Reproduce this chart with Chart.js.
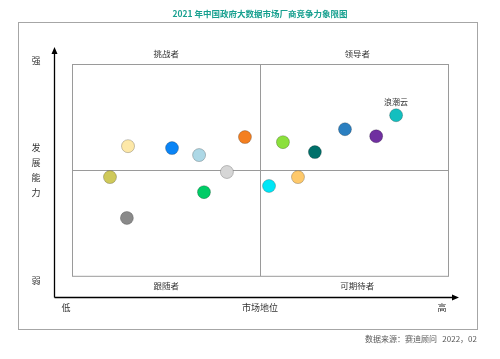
<!DOCTYPE html>
<html>
<head>
<meta charset="utf-8">
<script src="https://cdn.jsdelivr.net/npm/chart.js@4/dist/chart.umd.min.js"></script>
<style>
  html, body { margin: 0; padding: 0; background: #fff; }
  #wrap { width: 500px; height: 359px; }
</style>
</head>
<body>
<div id="wrap"><canvas id="quadChart" width="500" height="359"></canvas></div>
<script>
// 市场地位 (x) / 发展能力 (y), 0-10 scale, quadrant split at 5
const marketPosition = [1.49, 2.66, 3.38, 4.60, 1.01, 4.12, 3.51, 1.46, 5.61, 6.46, 7.26, 8.09, 8.62, 5.24, 6.01];
const growthAbility  = [6.13, 6.04, 5.71, 6.56, 4.67, 4.91, 3.96, 2.74, 6.32, 5.85, 6.93, 6.60, 7.59, 4.25, 4.67];
const vendorNames    = ['', '', '', '', '', '', '', '', '', '', '', '', '浪潮云', '', ''];
const dotColors = ['#fde8a8', '#0a84f5', '#add8e6', '#f47f20', '#cfc95a', '#d6d6d6', '#00cc66', '#8a8a8a',
                   '#8be03c', '#00706a', '#2b7fc0', '#7030a0', '#13bfbf', '#00e6f6', '#fec96b'];
const quadrantNames = ['挑战者', '领导者', '跟随者', '可期待者'];
const yAxisWords = ['强', '发', '展', '能', '力', '弱'];
const xAxisWords = ['低', '市场地位', '高'];
const titleText = '2021 年中国政府大数据市场厂商竞争力象限图';
const sourceText = '数据来源：赛迪顾问   2022，02';

const CJK = '"Noto Sans CJK SC", "Noto Sans", sans-serif';

const points = marketPosition.map((x, i) => ({ x: x, y: growthAbility[i] }));

// frame, quadrant lines, arrows and labels
const quadrantDecor = {
  id: 'quadrantDecor',
  beforeDatasetsDraw(chart) {
    const ctx = chart.ctx;
    const a = chart.chartArea;
    const xs = chart.scales.x, ys = chart.scales.y;
    ctx.save();

    // outer frame
    ctx.strokeStyle = '#a6a6a6';
    ctx.lineWidth = 1;
    ctx.strokeRect(18.5, 22.5, 459, 307);

    // quadrant box + split lines
    ctx.strokeStyle = '#9a9a9a';
    ctx.strokeRect(Math.round(a.left) + 0.5, Math.round(a.top) + 0.5, a.right - a.left, a.bottom - a.top);
    const mx = Math.round(xs.getPixelForValue(5)) + 0.5;
    const my = Math.round(ys.getPixelForValue(5)) + 0.5;
    ctx.beginPath();
    ctx.moveTo(mx, a.top); ctx.lineTo(mx, a.bottom);
    ctx.moveTo(a.left, my); ctx.lineTo(a.right, my);
    ctx.stroke();

    // axis arrows
    const ox = 54.5, oy = 297.5;
    ctx.strokeStyle = '#000';
    ctx.fillStyle = '#000';
    ctx.lineWidth = 1.3;
    ctx.beginPath();
    ctx.moveTo(ox, oy); ctx.lineTo(ox, 52);
    ctx.moveTo(ox, oy); ctx.lineTo(454, oy);
    ctx.stroke();
    ctx.beginPath();
    ctx.moveTo(ox, 47); ctx.lineTo(ox - 3, 54); ctx.lineTo(ox + 3, 54); ctx.closePath();
    ctx.moveTo(459, oy); ctx.lineTo(452, oy - 3); ctx.lineTo(452, oy + 3); ctx.closePath();
    ctx.fill();

    // text
    ctx.fillStyle = '#333';
    ctx.textAlign = 'center';
    ctx.textBaseline = 'middle';
    ctx.font = '8.5px ' + CJK;
    const qx1 = (a.left + mx) / 2, qx2 = (mx + a.right) / 2 + 3;
    ctx.fillText(quadrantNames[0], qx1, 54);
    ctx.fillText(quadrantNames[1], qx2, 54);
    ctx.fillText(quadrantNames[2], qx1, 286);
    ctx.fillText(quadrantNames[3], qx2, 286);

    ctx.font = '9px ' + CJK;
    ctx.fillText(yAxisWords[0], 36, 61);
    [148, 163, 178, 193].forEach((yy, i) => ctx.fillText(yAxisWords[i + 1], 36, yy));
    ctx.fillText(yAxisWords[5], 36, 281);
    ctx.fillText(xAxisWords[0], 66, 308);
    ctx.fillText(xAxisWords[1], 260, 308);
    ctx.fillText(xAxisWords[2], 442, 308);

    ctx.textAlign = 'right';
    ctx.font = '8px ' + CJK;
    ctx.fillStyle = '#595959';
    ctx.fillText(sourceText, 477, 339);
    ctx.restore();
  },
  afterDatasetsDraw(chart) {
    const ctx = chart.ctx;
    const meta = chart.getDatasetMeta(0);
    ctx.save();
    ctx.fillStyle = '#333';
    ctx.font = '8px ' + CJK;
    ctx.textAlign = 'center';
    ctx.textBaseline = 'middle';
    meta.data.forEach((el, i) => {
      if (vendorNames[i]) ctx.fillText(vendorNames[i], el.x, el.y - 13);
    });
    ctx.restore();
  }
};

new Chart(document.getElementById('quadChart'), {
  type: 'scatter',
  data: {
    datasets: [{
      data: points,
      backgroundColor: dotColors,
      borderColor: 'rgba(0, 0, 0, 0.22)',
      borderWidth: 1,
      pointRadius: 6.5,
      pointHoverRadius: 6.5
    }]
  },
  options: {
    responsive: false,
    animation: false,
    events: [],
    layout: { padding: { left: 72, right: 52, top: 0, bottom: 83 } },
    scales: {
      x: { type: 'linear', min: 0, max: 10, display: false },
      y: { type: 'linear', min: 0, max: 10, display: false }
    },
    plugins: {
      legend: { display: false },
      tooltip: { enabled: false },
      title: {
        display: true,
        text: titleText,
        color: '#17a08f',
        font: { family: CJK, size: 8.5, weight: 'bold' },
        padding: { top: 9, bottom: 45 }
      }
    }
  },
  plugins: [quadrantDecor]
});
</script>
</body>
</html>
